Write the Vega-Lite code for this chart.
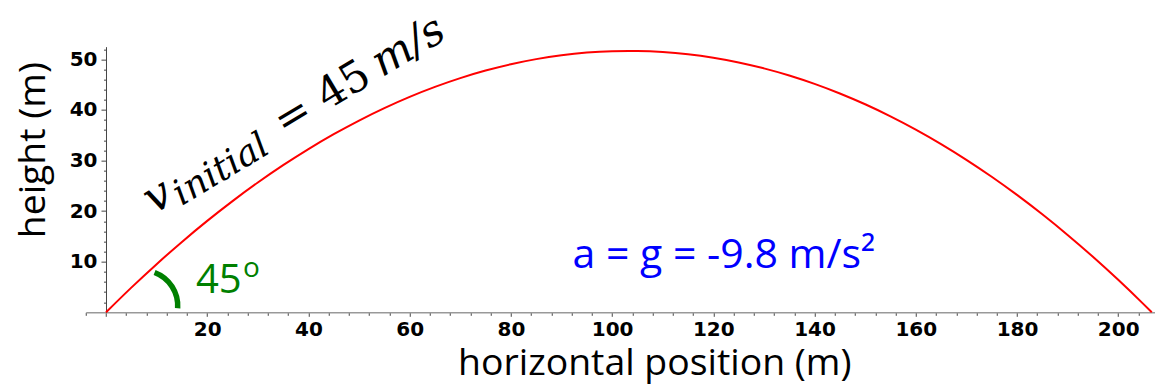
{
  "$schema": "https://vega.github.io/schema/vega-lite/v6.json",
  "width": 1069.4,
  "height": 265.65,
  "autosize": {"type": "none"},
  "padding": {"left": 85.76, "top": 46.65, "right": 0, "bottom": 72.7},
  "background": "white",
  "config": {"view": {"stroke": null}},
  "encoding": {
    "x": {
      "field": "x", "type": "quantitative",
      "scale": {"domain": [-4, 207.3], "nice": false, "zero": false},
      "axis": {
        "values": [-4,0,4,8,12,16,20,24,28,32,36,40,44,48,52,56,60,64,68,72,76,80,84,88,92,96,100,104,108,112,116,120,124,128,132,136,140,144,148,152,156,160,164,168,172,176,180,184,188,192,196,200,204],
        "labelExpr": "datum.value % 20 === 0 && datum.value > 0 ? datum.label : ''",
        "labelFont": "DejaVu Sans", "labelFontWeight": "bold", "labelFontSize": 20, "labelColor": "black",
        "labelPadding": 3.5, "labelOverlap": false, "labelFlush": false,
        "tickSize": {"condition": {"test": "datum.value % 20 === 0", "value": 4}, "value": 3},
        "tickColor": "#444", "tickWidth": 1,
        "domainColor": "#999", "domainWidth": 1.5,
        "grid": false,
        "title": "horizontal position (m)",
        "titleFont": "Open Sans", "titleFontSize": 37.4, "titleFontWeight": "normal", "titleColor": "black",
        "titleX": 568.5, "titleY": 62.7, "titleAlign": "center", "titleBaseline": "alphabetic"
      }
    },
    "y": {
      "field": "y", "type": "quantitative",
      "scale": {"domain": [0, 52.5], "nice": false, "zero": false},
      "axis": {
        "values": [2,4,6,8,10,12,14,16,18,20,22,24,26,28,30,32,34,36,38,40,42,44,46,48,50,52],
        "labelExpr": "datum.value % 10 === 0 ? datum.label : ''",
        "labelFont": "DejaVu Sans", "labelFontWeight": "bold", "labelFontSize": 20, "labelColor": "black",
        "labelPadding": 4, "labelOverlap": false, "labelFlush": false,
        "tickSize": {"condition": {"test": "datum.value % 10 === 0", "value": 5}, "value": 2.5},
        "tickColor": "#444", "tickWidth": 1,
        "domainColor": "#444", "domainWidth": 1,
        "offset": -20.24,
        "grid": false,
        "title": "height (m)",
        "titleFont": "Open Sans", "titleFontSize": 37.4, "titleFontWeight": "normal", "titleColor": "black",
        "titleAngle": -90, "titleX": -61, "titleY": 103, "titleAlign": "center", "titleBaseline": "alphabetic"
      }
    }
  },
  "layer": [
    {
      "data": {"values": [
        {"x": 0, "y": 0}, {"x": 5, "y": 4.879}, {"x": 10, "y": 9.516}, {"x": 15, "y": 13.911},
        {"x": 20, "y": 18.064}, {"x": 25, "y": 21.975}, {"x": 30, "y": 25.644}, {"x": 35, "y": 29.072},
        {"x": 40, "y": 32.257}, {"x": 45, "y": 35.2}, {"x": 50, "y": 37.901}, {"x": 55, "y": 40.36},
        {"x": 60, "y": 42.578}, {"x": 65, "y": 44.553}, {"x": 70, "y": 46.286}, {"x": 75, "y": 47.778},
        {"x": 80, "y": 49.027}, {"x": 85, "y": 50.034}, {"x": 90, "y": 50.799}, {"x": 95, "y": 51.323},
        {"x": 100, "y": 51.605}, {"x": 103.3, "y": 51.657}, {"x": 105, "y": 51.644}, {"x": 110, "y": 51.441},
        {"x": 115, "y": 50.997}, {"x": 120, "y": 50.31}, {"x": 125, "y": 49.382}, {"x": 130, "y": 48.211},
        {"x": 135, "y": 46.799}, {"x": 140, "y": 45.144}, {"x": 145, "y": 43.248}, {"x": 150, "y": 41.11},
        {"x": 155, "y": 38.729}, {"x": 160, "y": 36.107}, {"x": 165, "y": 33.243}, {"x": 170, "y": 30.137},
        {"x": 175, "y": 26.788}, {"x": 180, "y": 23.198}, {"x": 185, "y": 19.366}, {"x": 190, "y": 15.292},
        {"x": 195, "y": 10.976}, {"x": 200, "y": 6.417}, {"x": 205, "y": 1.617}, {"x": 206.63, "y": 0}
      ]},
      "mark": {"type": "line", "color": "#FF0000", "strokeWidth": 2, "interpolate": "monotone"}
    },
    {
      "data": {"values": [{"x": 7.11, "y": 1.25}]},
      "mark": {"type": "arc", "innerRadius": 33, "outerRadius": 38.5, "theta": 0.36, "theta2": 1.635, "color": "#008000"}
    },
    {
      "data": {"values": [{"x": 9.48, "y": 19.31, "t": "v"}]},
      "mark": {"type": "text", "font": "DejaVu Serif", "fontStyle": "italic", "fontSize": 45, "angle": -31, "align": "left", "baseline": "alphabetic", "color": "black"},
      "encoding": {"text": {"field": "t"}}
    },
    {
      "data": {"values": [{"x": 14.94, "y": 20.97, "t": "initial"}]},
      "mark": {"type": "text", "font": "DejaVu Serif", "fontStyle": "italic", "fontSize": 36, "angle": -31, "align": "left", "baseline": "alphabetic", "color": "black"},
      "encoding": {"text": {"field": "t"}}
    },
    {
      "data": {"values": [{"x": 35.23, "y": 34.76, "t": "= 45"}]},
      "mark": {"type": "text", "font": "DejaVu Serif", "fontSize": 43, "angle": -31, "align": "left", "baseline": "alphabetic", "color": "black"},
      "encoding": {"text": {"field": "t"}}
    },
    {
      "data": {"values": [{"x": 54.52, "y": 46.38, "t": "m/s"}]},
      "mark": {"type": "text", "font": "DejaVu Serif", "fontStyle": "italic", "fontSize": 43, "angle": -31, "align": "left", "baseline": "alphabetic", "color": "black"},
      "encoding": {"text": {"field": "t"}}
    },
    {
      "data": {"values": [{"x": 122.1, "y": 8.75, "t": "a = g = -9.8 m/s²"}]},
      "mark": {"type": "text", "font": "Open Sans", "fontSize": 41, "align": "center", "baseline": "alphabetic", "color": "#0000FF"},
      "encoding": {"text": {"field": "t"}}
    },
    {
      "data": {"values": [{"x": 17.78, "y": 3.75, "t": "45"}]},
      "mark": {"type": "text", "font": "Open Sans", "fontSize": 40, "align": "left", "baseline": "alphabetic", "color": "#008000"},
      "encoding": {"text": {"field": "t"}}
    },
    {
      "data": {"values": [{"x": 27.07, "y": 6.98, "t": "o"}]},
      "mark": {"type": "text", "font": "Open Sans", "fontSize": 28, "align": "left", "baseline": "alphabetic", "color": "#008000"},
      "encoding": {"text": {"field": "t"}}
    }
  ]
}
